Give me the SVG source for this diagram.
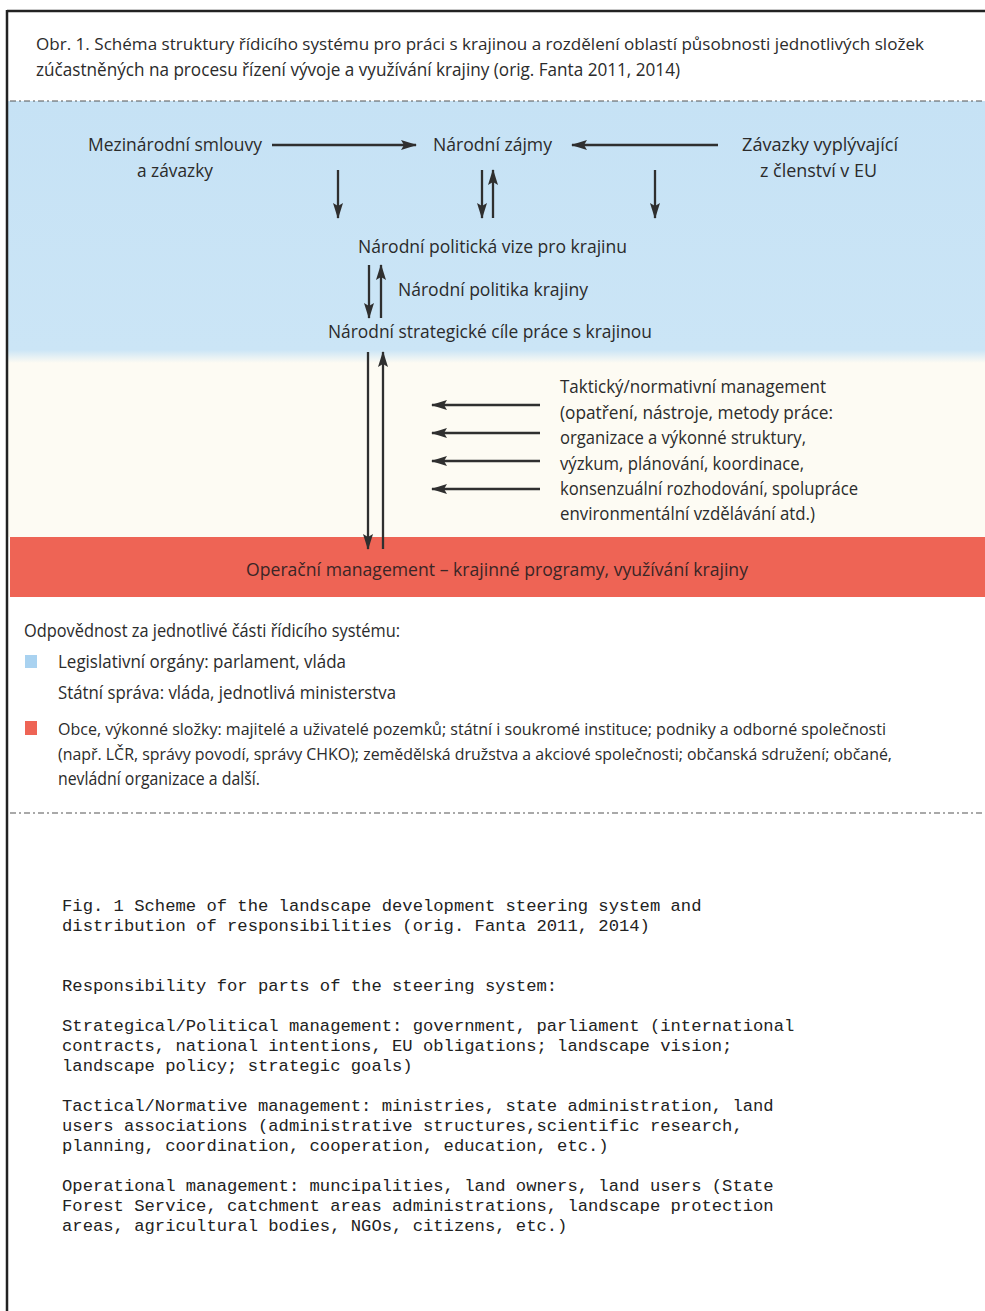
<svg xmlns="http://www.w3.org/2000/svg" width="985" height="1311" viewBox="0 0 985 1311">
<style>
.t{font-family:"Open Sans","Liberation Sans",sans-serif;font-size:18px;fill:#2b2b2b}
.s{font-size:17px}
.m{font-family:"Liberation Mono","Courier New",monospace;font-size:17.2px;fill:#222}
.a{stroke:#2f2f2f;stroke-width:2.3;fill:none}
.dash{stroke:#555;stroke-width:1.2;stroke-dasharray:6 3 2 3}
</style>
<defs>
<marker id="ah" viewBox="0 0 16 10" refX="15" refY="5" markerWidth="16" markerHeight="10" markerUnits="userSpaceOnUse" orient="auto">
<path d="M0,0 L16,5 L0,10 L3,5 Z" fill="#2f2f2f"/>
</marker>
<linearGradient id="bg" x1="0" y1="0" x2="0" y2="1">
<stop offset="0" stop-color="#c6e2f5"/>
<stop offset="0.95" stop-color="#cbe5f6"/>
<stop offset="1" stop-color="#fdfbf3"/>
</linearGradient>
</defs>
<rect x="0" y="0" width="985" height="1311" fill="#ffffff"/>
<g id="bands">
<rect x="8" y="101" width="977" height="262" fill="url(#bg)"/>
<rect x="8" y="363" width="977" height="174" fill="#fdfbf3"/>
<rect x="10" y="537" width="975" height="60" fill="#ee6455"/>
<line class="dash" x1="10" y1="101" x2="985" y2="101"/>
<line class="dash" x1="10" y1="813" x2="985" y2="813"/>
</g>
<g id="frame">
<line x1="7" y1="11" x2="985" y2="11" stroke="#222" stroke-width="2.5"/>
<line x1="7" y1="10" x2="7" y2="1311" stroke="#222" stroke-width="2.5"/>
</g>
<g id="title">
<text class="t s" x="36" y="50" textLength="888" lengthAdjust="spacingAndGlyphs">Obr. 1. Schéma struktury řídicího systému pro práci s krajinou a rozdělení oblastí působnosti jednotlivých složek</text>
<text class="t" x="36" y="76" textLength="644" lengthAdjust="spacingAndGlyphs">zúčastněných na procesu řízení vývoje a využívání krajiny (orig. Fanta 2011, 2014)</text>
</g>
<g id="n-mezinarodni">
<text class="t" x="88" y="151" textLength="174" lengthAdjust="spacingAndGlyphs">Mezinárodní smlouvy</text>
<text class="t" x="137" y="177" textLength="76" lengthAdjust="spacingAndGlyphs">a závazky</text>
</g>
<g id="n-narodni-zajmy">
<text class="t" x="433" y="151" textLength="119" lengthAdjust="spacingAndGlyphs">Národní zájmy</text>
</g>
<g id="n-zavazky-eu">
<text class="t" x="742" y="151" textLength="156" lengthAdjust="spacingAndGlyphs">Závazky vyplývající</text>
<text class="t" x="760" y="177" textLength="117" lengthAdjust="spacingAndGlyphs">z členství v EU</text>
</g>
<g id="n-vize">
<text class="t" x="358" y="253" textLength="269" lengthAdjust="spacingAndGlyphs">Národní politická vize pro krajinu</text>
</g>
<g id="n-politika">
<text class="t" x="398" y="296" textLength="190" lengthAdjust="spacingAndGlyphs">Národní politika krajiny</text>
</g>
<g id="n-cile">
<text class="t" x="328" y="338" textLength="324" lengthAdjust="spacingAndGlyphs">Národní strategické cíle práce s krajinou</text>
</g>
<g id="n-takticky">
<text class="t" x="560" y="393" textLength="266" lengthAdjust="spacingAndGlyphs">Taktický/normativní management</text>
<text class="t" x="560" y="419" textLength="273" lengthAdjust="spacingAndGlyphs">(opatření, nástroje, metody práce:</text>
<text class="t" x="560" y="444" textLength="246" lengthAdjust="spacingAndGlyphs">organizace a výkonné struktury,</text>
<text class="t" x="560" y="470" textLength="244" lengthAdjust="spacingAndGlyphs">výzkum, plánování, koordinace,</text>
<text class="t" x="560" y="495" textLength="298" lengthAdjust="spacingAndGlyphs">konsenzuální rozhodování, spolupráce</text>
<text class="t" x="560" y="520" textLength="255" lengthAdjust="spacingAndGlyphs">environmentální vzdělávání atd.)</text>
</g>
<g id="n-operacni">
<text class="t" x="246" y="576" textLength="502" lengthAdjust="spacingAndGlyphs" style="fill:#3a2626">Operační management – krajinné programy, využívání krajiny</text>
</g>
<g id="connectors">
<line class="a" x1="272" y1="145" x2="416" y2="145" marker-end="url(#ah)"/>
<line class="a" x1="718" y1="145" x2="572" y2="145" marker-end="url(#ah)"/>
<line class="a" x1="338" y1="170" x2="338" y2="218" marker-end="url(#ah)"/>
<line class="a" x1="655" y1="170" x2="655" y2="218" marker-end="url(#ah)"/>
<line class="a" x1="482" y1="170" x2="482" y2="218" marker-end="url(#ah)"/>
<line class="a" x1="493" y1="218" x2="493" y2="170" marker-end="url(#ah)"/>
<line class="a" x1="369" y1="265" x2="369" y2="318" marker-end="url(#ah)"/>
<line class="a" x1="381" y1="318" x2="381" y2="265" marker-end="url(#ah)"/>
<line class="a" x1="368" y1="352" x2="368" y2="549" marker-end="url(#ah)"/>
<line class="a" x1="383" y1="549" x2="383" y2="352" marker-end="url(#ah)"/>
<line class="a" x1="540" y1="405" x2="432" y2="405" marker-end="url(#ah)"/>
<line class="a" x1="540" y1="433" x2="432" y2="433" marker-end="url(#ah)"/>
<line class="a" x1="540" y1="461" x2="432" y2="461" marker-end="url(#ah)"/>
<line class="a" x1="540" y1="489" x2="432" y2="489" marker-end="url(#ah)"/>
</g>
<g id="legend">
<text class="t" x="24" y="637" textLength="376" lengthAdjust="spacingAndGlyphs">Odpovědnost za jednotlivé části řídicího systému:</text>
<rect x="25" y="655" width="12" height="13" fill="#a9d2f0"/>
<text class="t" x="58" y="668" textLength="288" lengthAdjust="spacingAndGlyphs">Legislativní orgány: parlament, vláda</text>
<text class="t" x="58" y="699" textLength="338" lengthAdjust="spacingAndGlyphs">Státní správa: vláda, jednotlivá ministerstva</text>
<rect x="25" y="721" width="12" height="14" fill="#ee6455"/>
<text class="t s" x="58" y="735" textLength="828" lengthAdjust="spacingAndGlyphs">Obce, výkonné složky: majitelé a uživatelé pozemků; státní i soukromé instituce; podniky a odborné společnosti</text>
<text class="t s" x="58" y="760" textLength="834" lengthAdjust="spacingAndGlyphs">(např. LČR, správy povodí, správy CHKO); zemědělská družstva a akciové společnosti; občanská sdružení; občané,</text>
<text class="t" x="58" y="785" textLength="202" lengthAdjust="spacingAndGlyphs">nevládní organizace a další.</text>
</g>
<g id="english">
<text class="m" x="62" y="911">Fig. 1 Scheme of the landscape development steering system and</text>
<text class="m" x="62" y="931">distribution of responsibilities (orig. Fanta 2011, 2014)</text>
<text class="m" x="62" y="991">Responsibility for parts of the steering system:</text>
<text class="m" x="62" y="1031">Strategical/Political management: government, parliament (international</text>
<text class="m" x="62" y="1051">contracts, national intentions, EU obligations; landscape vision;</text>
<text class="m" x="62" y="1071">landscape policy; strategic goals)</text>
<text class="m" x="62" y="1111">Tactical/Normative management: ministries, state administration, land</text>
<text class="m" x="62" y="1131">users associations (administrative structures,scientific research,</text>
<text class="m" x="62" y="1151">planning, coordination, cooperation, education, etc.)</text>
<text class="m" x="62" y="1191">Operational management: muncipalities, land owners, land users (State</text>
<text class="m" x="62" y="1211">Forest Service, catchment areas administrations, landscape protection</text>
<text class="m" x="62" y="1231">areas, agricultural bodies, NGOs, citizens, etc.)</text>
</g>
</svg>
